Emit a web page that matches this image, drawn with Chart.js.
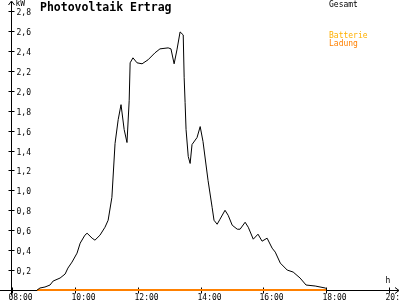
<!DOCTYPE html>
<html>
<head>
<meta charset="utf-8">
<script src="https://cdn.jsdelivr.net/npm/chart.js@4"></script>
<style>
  body { margin: 0; background: #fff; }
  canvas { display: block; }
</style>
</head>
<body>
<canvas id="pvChart" width="400" height="300"></canvas>
<script>
// Gesamt (kW) ueber Uhrzeit (Stunden dezimal)
const times = [
  8.80, 8.89, 9.05, 9.21, 9.31, 9.53, 9.69, 9.78, 9.91, 10.07,
  10.17, 10.32, 10.39, 10.55, 10.64, 10.80, 10.96, 11.06, 11.18, 11.28,
  11.38, 11.47, 11.57, 11.66, 11.73, 11.76, 11.85, 11.98, 12.14, 12.33,
  12.55, 12.71, 12.97, 13.06, 13.16, 13.25, 13.35, 13.45, 13.48, 13.51,
  13.54, 13.61, 13.67, 13.73, 13.89, 13.99, 14.08, 14.24, 14.37, 14.43,
  14.53, 14.62, 14.78, 14.88, 15.01, 15.17, 15.26, 15.42, 15.52, 15.68,
  15.83, 15.96, 16.12, 16.28, 16.38, 16.54, 16.76, 16.95, 17.17, 17.36,
  17.65, 17.97, 18.02
];
const gesamt = [
  0.00, 0.02, 0.03, 0.05, 0.09, 0.12, 0.16, 0.22, 0.28, 0.37,
  0.47, 0.55, 0.57, 0.52, 0.50, 0.55, 0.63, 0.70, 0.93, 1.47,
  1.71, 1.86, 1.61, 1.48, 1.90, 2.28, 2.33, 2.28, 2.27, 2.31,
  2.38, 2.42, 2.43, 2.42, 2.27, 2.41, 2.59, 2.56, 2.13, 1.88,
  1.61, 1.34, 1.27, 1.46, 1.53, 1.64, 1.49, 1.10, 0.83, 0.70,
  0.66, 0.71, 0.80, 0.75, 0.65, 0.61, 0.61, 0.68, 0.63, 0.51,
  0.56, 0.49, 0.52, 0.42, 0.38, 0.27, 0.20, 0.18, 0.12, 0.05,
  0.04, 0.02, 0.01
];
// Batterie Ladung
const ladungTimes = [8.80, 18.0];
const ladung = [0, 0];

const xTicks = [8, 10, 12, 14, 16, 18, 20];
const yTicks = [0.2, 0.4, 0.6, 0.8, 1.0, 1.2, 1.4, 1.6, 1.8, 2.0, 2.2, 2.4, 2.6, 2.8];

const FONT = '"DejaVu Sans Mono", monospace';

function fmtHour(h) {
  return (h < 10 ? '0' : '') + h + ':00';
}

// Achsen, Beschriftung und Legende selber zeichnen
const axesPlugin = {
  id: 'axesPlugin',
  beforeDatasetsDraw(chart) {
    const ctx = chart.ctx;
    const xs = chart.scales.x;
    const ys = chart.scales.y;
    const x0 = Math.round(xs.getPixelForValue(8)) + 0.5 - 1;
    const y0 = Math.round(ys.getPixelForValue(0)) + 0.5;
    ctx.save();
    ctx.strokeStyle = '#000';
    ctx.fillStyle = '#000';
    ctx.lineWidth = 1;

    // y-Achse mit Pfeil
    ctx.beginPath();
    ctx.moveTo(x0, 2);
    ctx.lineTo(x0, y0 + 5);
    ctx.moveTo(x0 - 3, 5);
    ctx.lineTo(x0, 1);
    ctx.lineTo(x0 + 3, 5);
    // x-Achse mit Pfeil
    ctx.moveTo(0, y0);
    ctx.lineTo(399, y0);
    ctx.moveTo(395, y0 - 3);
    ctx.lineTo(399, y0);
    ctx.lineTo(395, y0 + 3);
    ctx.stroke();

    ctx.font = '8px ' + FONT;
    ctx.textBaseline = 'middle';
    ctx.textAlign = 'left';
    yTicks.forEach(v => {
      const y = Math.round(ys.getPixelForValue(v)) + 0.5;
      ctx.beginPath();
      ctx.moveTo(x0 - 3, y);
      ctx.lineTo(x0 + 3, y);
      ctx.stroke();
      ctx.fillText(v.toFixed(1).replace('.', ','), x0 + 5, y + 1);
    });

    ctx.textBaseline = 'top';
    xTicks.forEach(h => {
      const x = Math.round(xs.getPixelForValue(h)) + 0.5;
      ctx.beginPath();
      ctx.moveTo(x, y0 - 3);
      ctx.lineTo(x, y0 + 3);
      ctx.stroke();
      ctx.fillText(fmtHour(h), x - 4, y0 + 3);
    });

    ctx.fillText('kW', x0 + 4, 0);
    ctx.textAlign = 'center';
    ctx.fillText('h', 388, 277);

    // Titel
    ctx.textAlign = 'left';
    ctx.font = 'bold 11.5px ' + FONT;
    ctx.fillText('Photovoltaik Ertrag', 40, 2);

    // Legende
    ctx.font = '8px ' + FONT;
    ctx.fillStyle = '#000';
    ctx.fillText('Gesamt', 329, 1);
    ctx.fillStyle = '#ffb000';
    ctx.fillText('Batterie', 329, 32);
    ctx.fillStyle = '#ff8000';
    ctx.fillText('Ladung', 329, 40);
    ctx.restore();
  }
};

const ctx = document.getElementById('pvChart');
new Chart(ctx, {
  type: 'line',
  data: {
    datasets: [{
      label: 'Gesamt',
      data: times.map((t, i) => ({ x: t, y: gesamt[i] })),
      borderColor: '#000',
      borderWidth: 1,
      pointRadius: 0,
      tension: 0,
      fill: false,
      clip: false
    }, {
      label: 'Batterie Ladung',
      data: ladungTimes.map((t, i) => ({ x: t, y: ladung[i] })),
      borderColor: '#ff8000',
      borderWidth: 2,
      pointRadius: 0,
      tension: 0,
      fill: false,
      clip: false
    }]
  },
  options: {
    responsive: false,
    animation: false,
    layout: { padding: { left: 12, right: 11, top: 11, bottom: 10 } },
    plugins: { legend: { display: false }, tooltip: { enabled: false } },
    scales: {
      x: { type: 'linear', min: 8, max: 20, display: false },
      y: { type: 'linear', min: 0, max: 2.8, display: false }
    }
  },
  plugins: [axesPlugin]
});
</script>
</body>
</html>
